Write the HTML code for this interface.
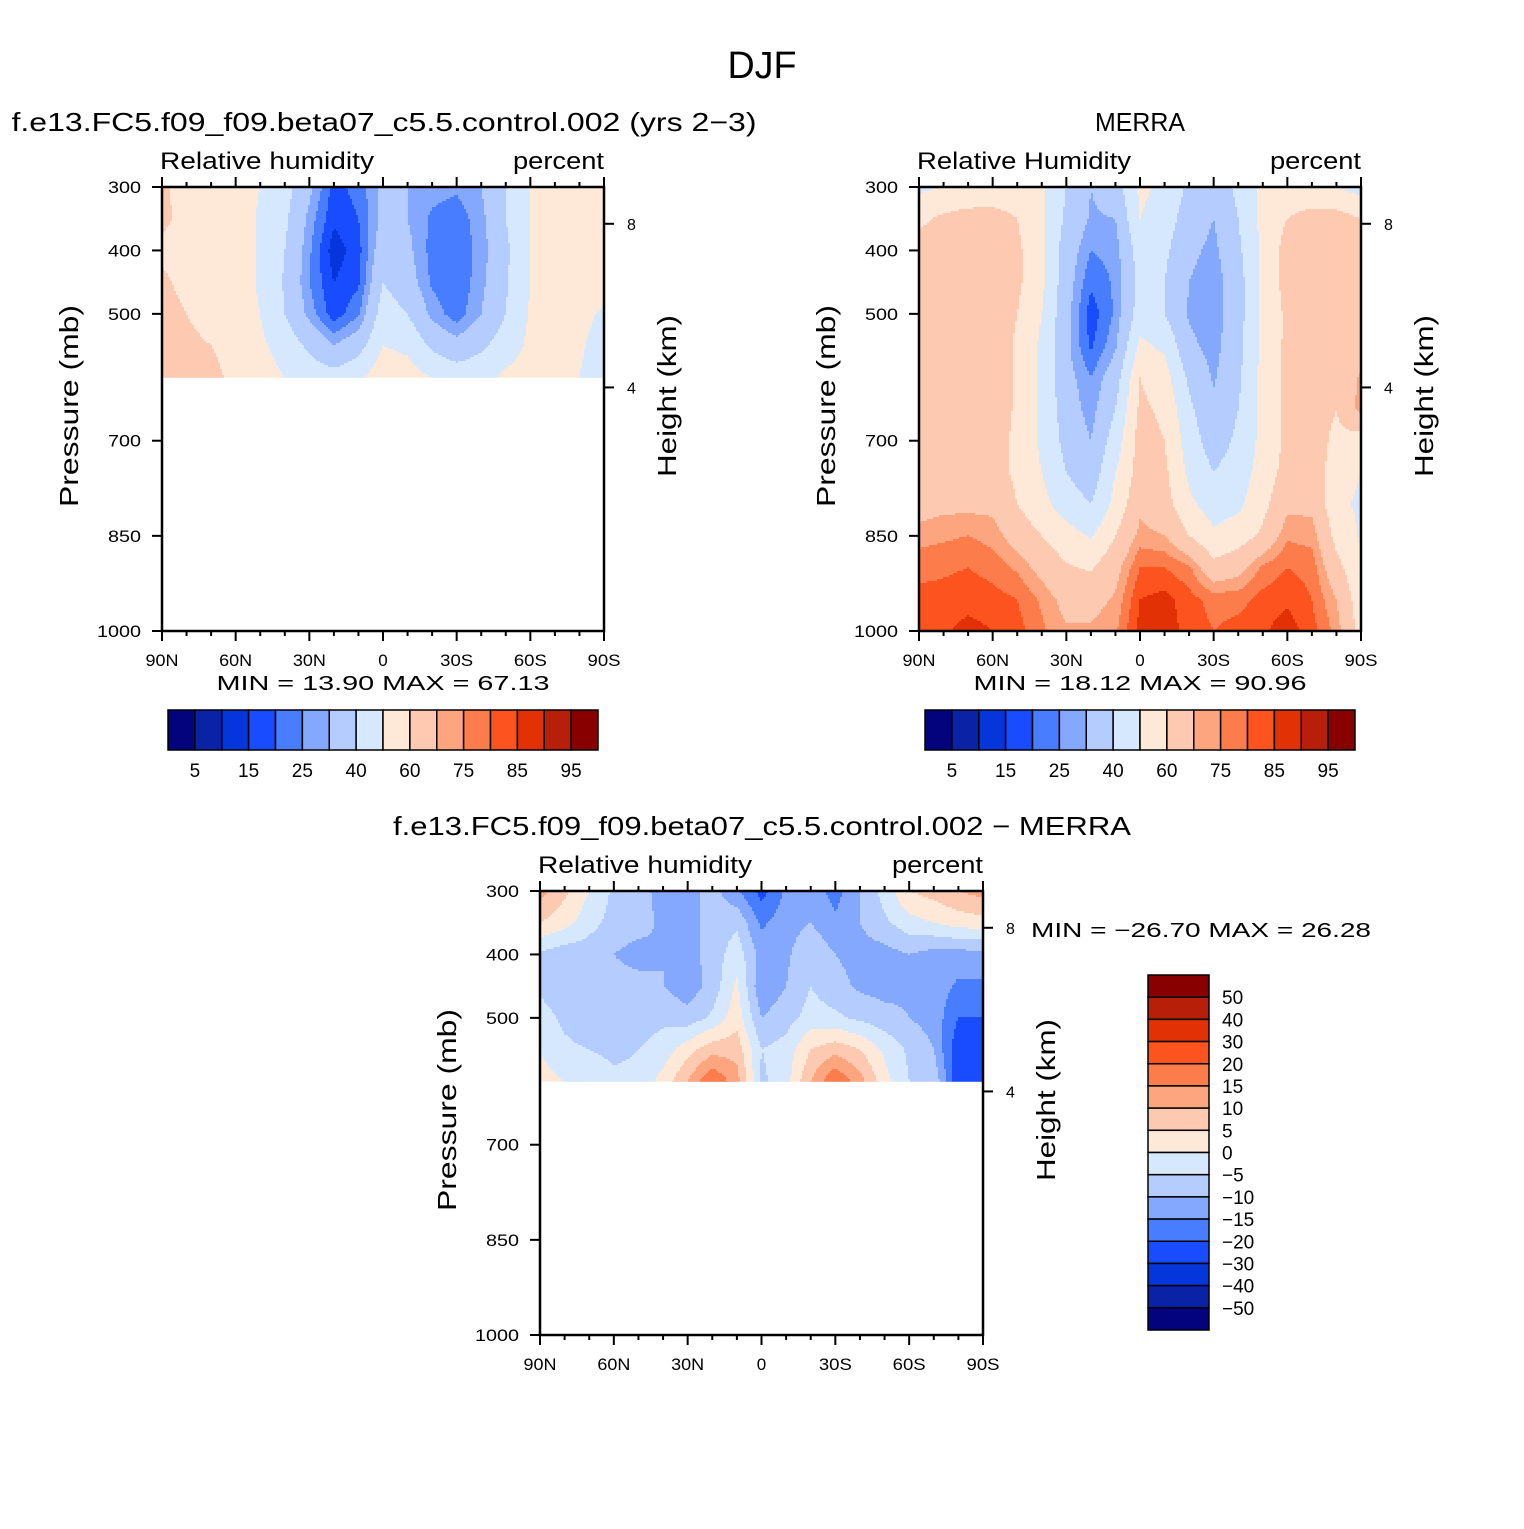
<!DOCTYPE html>
<html><head><meta charset="utf-8"><style>
body{margin:0;background:#fff}
svg text{font-family:"Liberation Sans",sans-serif;fill:#000}
</style></head><body>
<svg id="fig" width="1524" height="1524" viewBox="0 0 1524 1524" xmlns="http://www.w3.org/2000/svg">
<rect width="1524" height="1524" fill="#fff"/>
<text x="762" y="78" font-size="38" text-anchor="middle" textLength="69" lengthAdjust="spacingAndGlyphs">DJF</text>
<g id="p1"></g>
<g id="p2"></g>
<g id="p3"></g>
</svg>
<script>
const lats = [90,80,70,60,50,40,30,20,10,0,-10,-20,-30,-40,-50,-60,-70,-80,-90];
const latTicks = [90,60,30,0,-30,-60,-90];
const latTickLabels = ["90N","60N","30N","0","30S","60S","90S"];
const presTicks = [300,400,500,700,850,1000];
const presUpper = [300,350,400,450,500,550,600];
const presFull = [300,350,400,450,500,550,600,650,700,750,800,850,900,950,1000];
const rhLevels = [5,10,15,20,25,30,40,50,60,70,75,80,85,90,95];
const rhLabels = ["5","15","25","40","60","75","85","95"];
const diffLevels = [-50,-40,-30,-20,-15,-10,-5,0,5,10,15,20,30,40,50];
const diffLabels = ["50","40","30","20","15","10","5","0","\u22125","\u221210","\u221215","\u221220","\u221230","\u221240","\u221250"];
const palette = ["#03037e","#0a22a6","#0436dc","#1a4cff","#487dff","#85a8ff","#b4ccff","#d6e8fd","#fee9d8","#fdc9b0","#fca57f","#fd7c4b","#fd541f","#e23205","#b71f0a","#880000"];

const modelRH = [
[62,56,55,54,50,44,32,18,22,32,30,27,26,30,40,50,55,56,58],
[62,57,55,54,49,42,28,16,20,32,30,24,22,28,40,50,55,56,58],
[58,56,55,54,49,40,26,12,18,36,32,23,21,27,38,50,55,56,56],
[62,57,55,54,49,39,25,15,19,40,34,24,21,28,39,50,55,56,56],
[64,60,55,54,50,40,28,17,24,45,40,28,22,30,40,51,55,54,48],
[66,63,60,56,52,46,38,30,36,50,48,38,33,38,45,52,55,52,44],
[66,66,63,57,54,50,46,44,48,56,54,50,46,47,52,54,56,50,42]];

const merraRH = [
[48,50,52,53,54,52,40,30,35,52,48,38,35,42,52,54,52,50,46],
[58,62,64,64,60,52,38,29,30,50,45,35,30,40,53,60,64,64,60],
[64,64,64,64,62,52,35,25,27,45,42,32,28,38,52,64,64,66,64],
[64,64,64,64,62,52,34,21,26,43,40,30,26,36,52,64,64,64,64],
[64,64,64,64,60,50,33,17,26,45,40,29,26,36,52,62,64,64,64],
[64,64,64,64,59,48,32,19,29,52,48,32,27,37,53,62,64,64,64],
[64,64,64,64,59,48,33,25,35,60,54,38,29,38,53,62,64,64,71],
[64,64,64,64,59,48,35,27,40,62,58,42,32,40,53,62,64,60,73],
[64,64,64,64,58,48,37,30,45,64,60,45,35,42,53,62,64,58,55],
[64,64,64,64,58,50,40,34,50,64,62,48,40,45,54,64,66,55,50],
[66,68,68,68,60,53,45,40,53,68,64,52,45,48,57,68,68,53,48],
[73,74,75,73,66,60,54,49,60,72,70,60,52,55,62,74,73,57,49],
[78,79,80,78,74,67,61,59,67,80,80,76,63,67,76,80,78,63,52],
[82,82,83,82,80,74,67,67,71,85,87,82,78,78,82,84,80,70,54],
[84,84,87,85,82,76,71,71,74,87,88,83,80,82,84,88,82,73,56]];

const diffRH = [
[12,6,0,-6,-8,-12,-12,-8,-14,-22,-14,-12,-17,-10,-3,5,7,10,12],
[5,2,-3,-7,-8,-11,-12,-8,-6,-16,-12,-10,-14,-10,-6,-2,0,2,3],
[-6,-8,-8,-10,-12,-10,-12,-8,-2,-12,-11,-6,-10,-12,-12,-10,-12,-12,-12],
[-6,-8,-8,-8,-8,-10,-13,-8,1,-14,-10,-5,-8,-11,-12,-11,-12,-16,-16],
[-3,-6,-8,-8,-7,-6,-8,-4,3,-10,-7,-3,-4,-6,-8,-10,-12,-20,-20],
[0,-4,-5,-6,-5,-3,3,8,8,-5,-3,5,8,5,-1,-6,-10,-24,-20],
[2,0,-2,-4,-4,2,10,20,12,-6,-2,10,20,12,2,-5,-6,-24,-20]];

const NS="http://www.w3.org/2000/svg";
function mk(tag, attrs, parent){const e=document.createElementNS(NS,tag);for(const k in attrs)e.setAttribute(k,attrs[k]);parent.appendChild(e);return e;}
function txt(parent,x,y,s,size,anchor,extra){const t=mk('text',Object.assign({x:x,y:y,'font-size':size,'text-anchor':anchor||'start'},extra||{}),parent);t.textContent=s;return t;}
function fit(len){return {textLength:len,lengthAdjust:'spacingAndGlyphs'};}

function levelIndex(v, levels){let i=0;while(i<levels.length && v>=levels[i])i++;return i;}

function drawPanel(g, box, pres, vals, levels, opts){
  const xOf = lat => box.x + (90-lat)/180*box.w;
  const yOf = p => box.y + (p-300)/700*box.h;
  const latOf = x => 90 - (x-box.x)/box.w*180;
  const pOf = y => 300 + (y-box.y)/box.h*700;
  const field = mk('g',{},g);
  
  
  const pTop = pres[0], pBot = pres[pres.length-1];
  const step=2;
  const y0=yOf(pTop), y1=yOf(pBot);
  const xEnd=box.x+box.w;
  for(let y=y0;y<y1;y+=step){
    const p=Math.min(pOf(y+step/2),pBot);
    let fi=(p-pTop)/(pres[1]-pres[0]); let i0=Math.min(Math.floor(fi),pres.length-2); let ft=fi-i0;
    let runStart=box.x, runCol=-1;
    const flush=(xe)=>{
      if(runCol>=0){
        const r=mk('rect',{x:runStart,y:y,width:xe-runStart+0.5,height:Math.min(step,y1-y)+0.5,fill:palette[runCol]},field);
        
        
      }
    };
    for(let x=box.x;x<xEnd;x+=step){
      const lat=Math.max(latOf(Math.min(x+step/2,xEnd)),-90);
      let fj=(90-lat)/10; let j0=Math.min(Math.floor(fj),lats.length-2); let fs=fj-j0;
      const v=(1-ft)*((1-fs)*vals[i0][j0]+fs*vals[i0][j0+1])+ft*((1-fs)*vals[i0+1][j0]+fs*vals[i0+1][j0+1]);
      const col=levelIndex(v,levels);
      if(col!==runCol){flush(x);runStart=x;runCol=col;}
    }
    flush(xEnd);
  }
  const ax=mk('g',{stroke:'#000','stroke-width':2.5,fill:'none'},g);
  
  
  mk('rect',{x:box.x,y:box.y,width:box.w,height:box.h},ax);
  for(let lat=90;lat>=-90;lat-=10){
    const x=xOf(lat); const major=(lat%30===0);
    const L=major?10:5;
    mk('line',{x1:x,y1:box.y,x2:x,y2:box.y-L,'stroke-width':2},ax);
    mk('line',{x1:x,y1:box.y+box.h,x2:x,y2:box.y+box.h+L,'stroke-width':2},ax);
  }
  latTicks.forEach((lat,i)=>{
    const s=latTickLabels[i];
    const t=txt(g,xOf(lat),box.y+box.h+35,s,17,'middle',s.length>1?fit(s.length*11):{});
    
    
  });
  presTicks.forEach(p=>{
    const y=yOf(p);
    mk('line',{x1:box.x,y1:y,x2:box.x-10,y2:y,'stroke-width':2},ax);
    const s=String(p);
    const t=txt(g,box.x-21,y+6,s,17,'end',fit(s.length*11));
    
    
  });
  [[8,358],[4,616]].forEach(h=>{
    const y=yOf(h[1]);
    mk('line',{x1:box.x+box.w,y1:y,x2:box.x+box.w+10,y2:y,'stroke-width':2},ax);
    const t=txt(g,box.x+box.w+23,y+6,String(h[0]),16,'start');
    
    
  });
  let t=txt(g,box.x-2,box.y-18,opts.left,24,'start',fit(214));
  
  
  t=txt(g,box.x+box.w,box.y-18,'percent',24,'end',fit(91));
  
  
  t=txt(g,opts.titleX,box.y-56,opts.title,26,'middle',fit(opts.titleW));
  
  
  t=txt(g,0,0,'Pressure (mb)',26,'middle',Object.assign({transform:`translate(${box.x-84},${box.y+box.h/2-3}) rotate(-90)`},fit(202)));
  
  
  t=txt(g,0,0,'Height (km)',26,'middle',Object.assign({transform:`translate(${box.x+box.w+72},${box.y+box.h/2-13}) rotate(-90)`},fit(162)));
  
  
}

function hColorbar(g,x,y,w,h,labels){
  const bw=w/16;
  for(let i=0;i<16;i++){
    const r=mk('rect',{x:x+i*bw,y:y,width:bw,height:h,fill:palette[i],stroke:'#000','stroke-width':1.5},g);
    
    
  }
  labels.forEach((s,k)=>{
    const t=txt(g,x+(2*k+1)*bw,y+h+27,s,19,'middle');
    
    
  });
}

const g1=document.getElementById('p1'),g2=document.getElementById('p2'),g3=document.getElementById('p3');
drawPanel(g1,{x:162,y:187,w:442,h:444},presUpper,modelRH,rhLevels,{left:'Relative humidity',title:'f.e13.FC5.f09_f09.beta07_c5.5.control.002 (yrs 2\u22123)',titleX:384,titleW:745});
drawPanel(g2,{x:919,y:187,w:442,h:444},presFull,merraRH,rhLevels,{left:'Relative Humidity',title:'MERRA',titleX:1140,titleW:90});
drawPanel(g3,{x:540,y:891,w:443,h:444},presUpper,diffRH,diffLevels,{left:'Relative humidity',title:'f.e13.FC5.f09_f09.beta07_c5.5.control.002 \u2212 MERRA',titleX:762,titleW:738});

let t=txt(g1,383,690,'MIN =   13.90   MAX =   67.13',20,'middle',Object.assign({'xml:space':'preserve'},fit(333)));


t=txt(g2,1140,690,'MIN =   18.12   MAX =   90.96',20,'middle',Object.assign({'xml:space':'preserve'},fit(333)));


t=txt(g3,1031,937,'MIN = \u221226.70   MAX =   26.28',20,'start',Object.assign({'xml:space':'preserve'},fit(340)));



hColorbar(g1,168,710,430,40,rhLabels);
hColorbar(g2,925,710,430,40,rhLabels);

const vb=mk('g',{},g3);


const vh=355/16;
for(let i=0;i<16;i++){
  const r=mk('rect',{x:1148,y:975+i*vh,width:61,height:vh,fill:palette[15-i],stroke:'#000','stroke-width':1.5},vb);
  
  
}
diffLabels.forEach((s,k)=>{
  const tt=txt(vb,1222,975+(k+1)*vh+7,s,19,'start');
  
  
});
</script>
</body></html>
